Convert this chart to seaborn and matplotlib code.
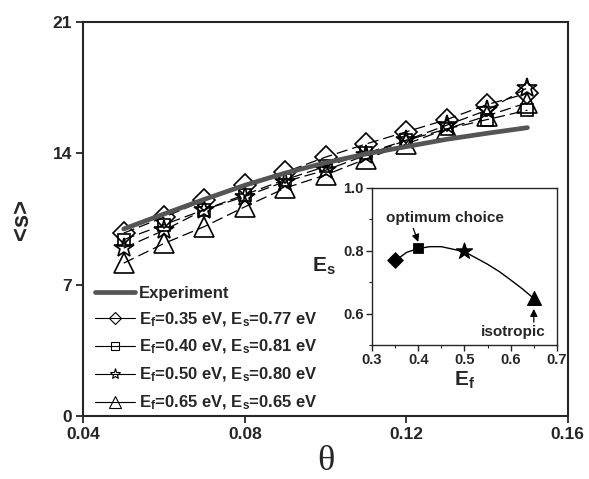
import matplotlib
matplotlib.use("Agg")
import matplotlib.pyplot as plt
from matplotlib.lines import Line2D
from matplotlib.ticker import MultipleLocator
import seaborn as sns

# main panel data
theta = [0.05, 0.06, 0.07, 0.08, 0.09, 0.10, 0.11, 0.12, 0.13, 0.14, 0.15]
experiment = [9.97, 10.77, 11.55, 12.3, 12.95, 13.5, 13.97, 14.36, 14.75, 15.07, 15.37]
s_035 = [9.75, 10.6, 11.5, 12.3, 13.0, 13.8, 14.5, 15.15, 15.8, 16.6, 17.2]
s_040 = [9.4, 10.2, 11.0, 11.8, 12.6, 13.3, 14.0, 14.7, 15.3, 15.8, 16.3]
s_050 = [8.95, 9.9, 11.0, 11.7, 12.5, 13.1, 13.9, 14.7, 15.5, 16.3, 17.5]
s_065 = [8.15, 9.2, 10.1, 11.15, 12.15, 12.85, 13.7, 14.5, 15.3, 16.0, 16.7]
series_labels = [r"E$_\mathbf{f}$=0.35 eV, E$_\mathbf{s}$=0.77 eV",
                 r"E$_\mathbf{f}$=0.40 eV, E$_\mathbf{s}$=0.81 eV",
                 r"E$_\mathbf{f}$=0.50 eV, E$_\mathbf{s}$=0.80 eV",
                 r"E$_\mathbf{f}$=0.65 eV, E$_\mathbf{s}$=0.65 eV"]

# inset data
ef = [0.35, 0.40, 0.50, 0.65]
es = [0.77, 0.81, 0.80, 0.65]
curve_ef = [0.35, 0.375, 0.40, 0.425, 0.45, 0.50, 0.55, 0.575, 0.60, 0.625, 0.65]
curve_es = [0.768, 0.795, 0.807, 0.813, 0.813, 0.797, 0.757, 0.734, 0.707, 0.679, 0.648]

sns.set_style("ticks")
plt.rcParams["font.family"] = ["Liberation Sans", "DejaVu Sans"]
plt.rcParams["font.weight"] = "bold"
plt.rcParams["mathtext.fontset"] = "custom"
plt.rcParams["mathtext.bf"] = "Liberation Sans:bold"
plt.rcParams["mathtext.rm"] = "Liberation Sans:bold"
plt.rcParams["mathtext.it"] = "Liberation Sans:bold"

fig = plt.figure(figsize=(5.89, 4.79), dpi=100)
ax = fig.add_axes([0.1415, 0.1315, 0.8225, 0.8225])

markers = ["D", "s", "*", "^"]
msizes = [11, 8, 15, 15]
all_series = [s_035, s_040, s_050, s_065]
for vals, mk, ms in zip(all_series, markers, msizes):
    sns.lineplot(x=theta, y=vals, ax=ax, marker=mk, markersize=ms,
                 markerfacecolor="none", markeredgecolor="black",
                 markeredgewidth=1.2, color="black", linewidth=0.9)
    ax.lines[-1].set_dashes((9, 4))
sns.lineplot(x=theta, y=experiment, ax=ax, color="#555555", linewidth=3.4)

ax.set_xlim(0.04, 0.16)
ax.set_ylim(0, 21)
ax.set_xticks([0.04, 0.08, 0.12, 0.16])
ax.set_xticklabels(["0.04", "0.08", "0.12", "0.16"], fontweight="bold")
ax.set_yticks([0, 7, 14, 21])
ax.set_yticklabels(["0", "7", "14", "21"], fontweight="bold")
ax.tick_params(axis="both", direction="out", length=5, width=1.3,
               labelsize=12.5, pad=3)
for sp in ax.spines.values():
    sp.set_linewidth(1.5)
ax.set_xlabel("θ", fontsize=26, family="Liberation Serif", fontweight="normal",
              labelpad=2)
ax.set_ylabel("<s>", fontsize=17, fontweight="bold", labelpad=14)

handles = [Line2D([], [], color="#555555", linewidth=3.4)]
for mk, ms in zip(markers, [6, 6, 8, 8]):
    handles.append(Line2D([], [], color="black", linewidth=0.8, marker=mk,
                          markersize=ms, markerfacecolor="none",
                          markeredgecolor="black", markeredgewidth=0.8))
ax.legend(handles, ["Experiment"] + series_labels, loc="lower left",
          bbox_to_anchor=(0.0, -0.02), frameon=False,
          prop={"size": 12, "weight": "bold"},
          handlelength=2.4, handletextpad=0.25, labelspacing=0.57,
          borderaxespad=0.3)

# inset
ins = fig.add_axes([0.6316, 0.2797, 0.314, 0.328])
sns.lineplot(x=curve_ef, y=curve_es, ax=ins, color="black", linewidth=1.0)
for x, y, mk, ms in zip(ef, es, markers, [8, 7, 12, 10]):
    sns.scatterplot(x=[x], y=[y], ax=ins, marker=mk, s=ms ** 2,
                    color="black", edgecolor="black", zorder=3)
ins.set_xlim(0.3, 0.7)
ins.set_ylim(0.5, 1.0)
ins.set_xticks([0.3, 0.4, 0.5, 0.6, 0.7])
ins.set_xticklabels(["0.3", "0.4", "0.5", "0.6", "0.7"], fontweight="bold")
ins.set_yticks([0.6, 0.8, 1.0])
ins.set_yticklabels(["0.6", "0.8", "1.0"], fontweight="bold")
ins.xaxis.set_minor_locator(MultipleLocator(0.05))
ins.yaxis.set_minor_locator(MultipleLocator(0.1))
ins.tick_params(axis="both", which="major", direction="out", length=4,
                width=1.0, labelsize=10.5, pad=2)
ins.tick_params(axis="both", which="minor", direction="out", length=2,
                width=0.8)
for sp in ins.spines.values():
    sp.set_linewidth(1.0)
ins.set_xlabel(r"E$_\mathbf{f}$", fontsize=15, fontweight="bold", labelpad=2)
ins.set_ylabel(r"E$_\mathbf{s}$", fontsize=15, fontweight="bold", rotation=0,
               labelpad=14, va="center")
ins.annotate("optimum choice", xy=(0.40, 0.828), xytext=(0.458, 0.904),
             ha="center", va="center", fontsize=11, fontweight="bold",
             arrowprops=dict(arrowstyle="-|>", color="black", lw=0.9,
                             shrinkA=0, shrinkB=0, relpos=(0.22, 0.0)))
ins.annotate("isotropic", xy=(0.65, 0.615), xytext=(0.605, 0.54),
             ha="center", va="center", fontsize=11, fontweight="bold",
             arrowprops=dict(arrowstyle="-|>", color="black", lw=0.9,
                             shrinkA=0, shrinkB=0, relpos=(0.82, 1.0)))

fig.savefig("out.png", dpi=100)
